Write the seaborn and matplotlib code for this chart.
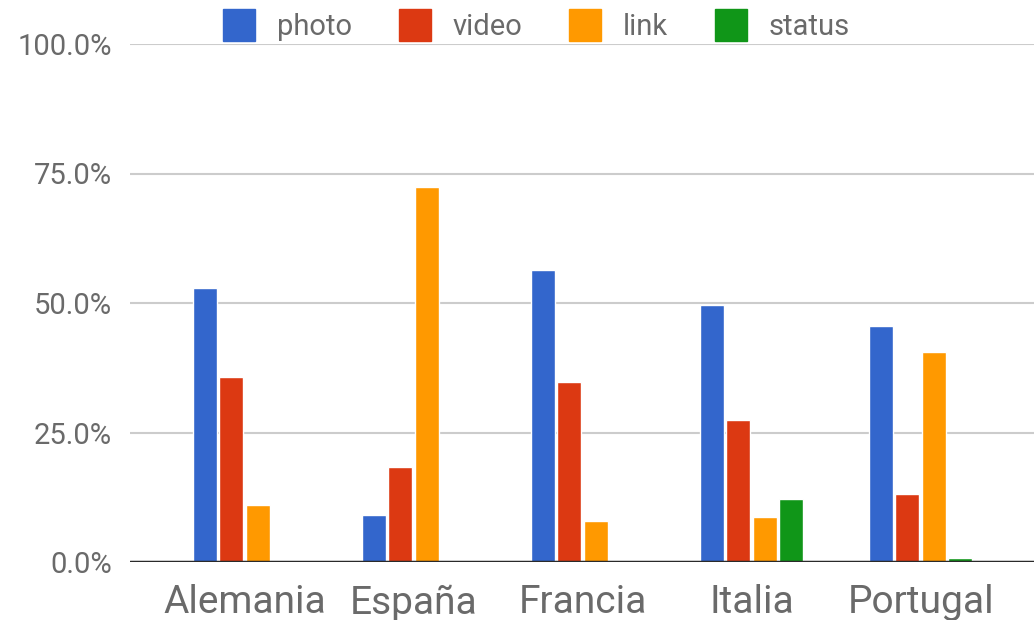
import matplotlib
matplotlib.use("Agg")
import matplotlib.pyplot as plt
import seaborn as sns
import pandas as pd
from matplotlib.lines import Line2D
from matplotlib.ticker import FuncFormatter

countries = ["Alemania", "España", "Francia", "Italia", "Portugal"]
series = ["photo", "video", "link", "status"]
photo = [52.8, 9.1, 56.4, 49.7, 45.6]
video = [35.8, 18.3, 34.7, 27.5, 13.2]
link = [11.1, 72.4, 8.0, 8.6, 40.5]
status = [0.0, 0.0, 0.2, 12.2, 0.8]
yticks = [0, 25, 50, 75, 100]

colors = ["#3366CC", "#DC3912", "#FF9900", "#109618"]
text_color = "#6a6a6a"

rows = []
for name, vals in zip(series, [photo, video, link, status]):
    for c, v in zip(countries, vals):
        rows.append({"country": c, "type": name, "value": v})
df = pd.DataFrame(rows)

sns.set_theme(style="white")
plt.rcParams["font.family"] = ["Roboto", "DejaVu Sans"]

fig = plt.figure(figsize=(10.34, 6.2), dpi=100)
ax = fig.add_axes([130 / 1034, (620 - 562) / 620, 905 / 1034, (562 - 44) / 620])

sns.barplot(data=df, x="country", y="value", hue="type", order=countries,
            hue_order=series, palette=colors, width=0.627, gap=0.1,
            saturation=1, ax=ax, legend=False)

ax.set_xlim(-0.677, 4.677)
ax.set_ylim(0, 100)
ax.set_yticks(yticks)
ax.yaxis.set_major_formatter(FuncFormatter(lambda v, p: f"{v:.1f}%"))
ax.set_xlabel("")
ax.set_ylabel("")
for s in ax.spines.values():
    s.set_visible(False)
ax.grid(axis="y", color="#cccccc", linewidth=1.5)
ax.set_axisbelow(True)
ax.axhline(0, color="#2a2a2a", linewidth=2.5, zorder=5)
ax.tick_params(axis="y", length=0, pad=13, labelsize=21, labelcolor=text_color)
ax.tick_params(axis="x", length=0, pad=16, labelsize=28, labelcolor=text_color)

handles = [Line2D([0], [0], marker="s", linestyle="none", markersize=23,
                  markerfacecolor=c, markeredgecolor=c) for c in colors]
fig.legend(handles, series, loc="center", bbox_to_anchor=(0.518, 0.956),
           ncol=4, frameon=False, fontsize=21, labelcolor=text_color,
           handlelength=1.2, handletextpad=0.7, columnspacing=1.55)

fig.savefig("out.png", dpi=100)
